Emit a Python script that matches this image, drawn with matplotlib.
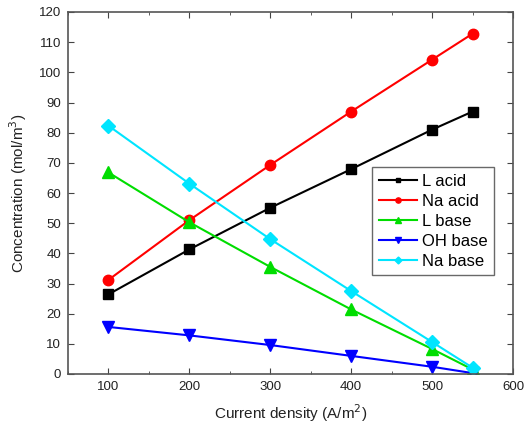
import matplotlib
matplotlib.use("Agg")
import matplotlib.pyplot as plt
from matplotlib.ticker import MultipleLocator

plt.rcParams['font.family'] = ['Liberation Sans', 'DejaVu Sans']

current_density = [100, 200, 300, 400, 500, 550]
l_acid = [26.4, 41.3, 55.1, 67.9, 81.0, 87.0]
na_acid = [31.2, 51.0, 69.3, 87.0, 104.2, 112.8]
l_base = [66.8, 50.3, 35.5, 21.4, 8.3, 1.5]
oh_base = [15.6, 12.8, 9.6, 6.0, 2.4, 0.3]
na_base = [82.3, 63.1, 44.7, 27.5, 10.6, 2.1]

series = [
    ("L acid", l_acid, "#000000", "s", 6.5),
    ("Na acid", na_acid, "#ff0000", "o", 7.5),
    ("L base", l_base, "#00dd00", "^", 8),
    ("OH base", oh_base, "#0000ff", "v", 8),
    ("Na base", na_base, "#00e5ff", "D", 7),
]

fig = plt.figure(figsize=(5.25, 4.32), dpi=100)
ax = fig.add_axes([68 / 525, 1 - 374 / 432, 445 / 525, 362 / 432])

for name, vals, color, mk, ms in series:
    ax.plot(current_density, vals, color=color, marker=mk, markersize=ms,
            linewidth=1.5, label=name)

ax.set_xlim(50, 600)
ax.set_ylim(0, 120)
ax.xaxis.set_major_locator(MultipleLocator(100))
ax.xaxis.set_minor_locator(MultipleLocator(50))
ax.yaxis.set_major_locator(MultipleLocator(10))
ax.tick_params(which='both', direction='in', top=True, right=True,
               labelsize=9.5, color='#444444', labelcolor='#222222')
ax.tick_params(which='major', length=4, pad=5)
ax.tick_params(which='minor', length=2.5)
for sp in ax.spines.values():
    sp.set_color('#555555')
    sp.set_linewidth(1.2)

ax.set_xlabel("Current density (A/m$^2$)", fontsize=11, color='#222222',
              labelpad=7)
ax.set_ylabel("Concentration (mol/m$^3$)", fontsize=11, color='#222222',
              labelpad=7)

leg = ax.legend(loc='upper left', bbox_to_anchor=(0.683, 0.572), fontsize=12,
                frameon=True, fancybox=False, edgecolor='#444444',
                handlelength=2.3, handletextpad=0.3, labelspacing=0.3,
                borderpad=0.4, borderaxespad=0, markerscale=0.5)
leg.get_frame().set_linewidth(1.0)

fig.savefig("out.png", dpi=100)
